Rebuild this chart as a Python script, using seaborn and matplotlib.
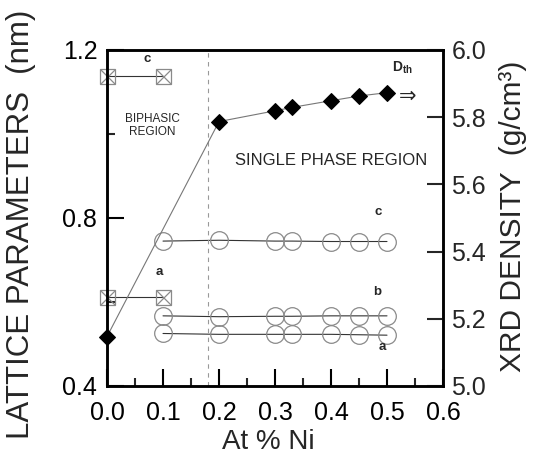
import matplotlib
matplotlib.use('Agg')
import matplotlib.pyplot as plt
import seaborn as sns

# ============================================================================
# DATA
# ============================================================================

# single phase region: lattice parameters a, b, c (nm)
x_ni = [0.1, 0.2, 0.3, 0.33, 0.4, 0.45, 0.5]
lat_a = [0.525, 0.523, 0.523, 0.523, 0.523, 0.522, 0.521]
lat_b = [0.567, 0.565, 0.566, 0.566, 0.567, 0.567, 0.567]
lat_c = [0.745, 0.747, 0.745, 0.745, 0.744, 0.744, 0.744]

# biphasic region: lattice parameters a, c (nm)
x_bi = [0.0, 0.1]
bi_a = [0.613, 0.613]
bi_c = [1.139, 1.139]

# XRD density (g/cm3)
x_dens = [0.0, 0.2, 0.3, 0.33, 0.4, 0.45, 0.5]
dens = [5.147, 5.787, 5.819, 5.829, 5.849, 5.863, 5.873]

phase_boundary = 0.181

# ============================================================================
# STYLE
# ============================================================================

sns.set_style('ticks')
plt.rcParams['font.family'] = ['Liberation Sans', 'DejaVu Sans']
plt.rcParams['mathtext.fontset'] = 'custom'
plt.rcParams['mathtext.rm'] = 'Liberation Sans'
plt.rcParams['mathtext.bf'] = 'Liberation Sans:bold'

fig = plt.figure(figsize=(5.34, 4.54), dpi=100)
ax = fig.add_axes([0.2004, 0.1498, 0.6292, 0.7401])
ax2 = ax.twinx()

circle_kw = dict(marker='o', markersize=12.7, markerfacecolor='none',
                 markeredgecolor='#8a8a8a', markeredgewidth=0.9,
                 color='#333333', linewidth=0.8)
square_kw = dict(marker='s', markersize=10.8, markerfacecolor='none',
                 markeredgecolor='#8a8a8a', markeredgewidth=0.9,
                 color='#333333', linewidth=0.8, clip_on=False)
cross_kw = dict(marker='x', markersize=10.8, markeredgecolor='#8a8a8a',
                markeredgewidth=0.9, linestyle='none', clip_on=False)

# single phase lattice parameters
for vals in [lat_a, lat_b, lat_c]:
    sns.lineplot(x=x_ni, y=vals, ax=ax, **circle_kw)

# biphasic lattice parameters (crossed squares)
for vals in [bi_a, bi_c]:
    sns.lineplot(x=x_bi, y=vals, ax=ax, **square_kw)
    ax.plot(x_bi, vals, **cross_kw)

ax.axvline(phase_boundary, color='#999999', linestyle=(0, (4, 4)), linewidth=0.8)

# density
sns.lineplot(x=x_dens, y=dens, ax=ax2, marker='D', markersize=8.2,
             color='#777777', linewidth=0.8, markerfacecolor='black',
             markeredgecolor='black', clip_on=False)

# ============================================================================
# AXES
# ============================================================================

ax.set_xlim(0.0, 0.6)
ax.set_ylim(0.4, 1.2)
ax2.set_ylim(5.0, 6.0)

ax.set_xticks([0.0, 0.1, 0.2, 0.3, 0.4, 0.5, 0.6])
ax.set_xticks([0.05, 0.15, 0.25, 0.35, 0.45, 0.55], minor=True)
ax.set_xticklabels(['0.0', '0.1', '0.2', '0.3', '0.4', '0.5', '0.6'])
ax.set_yticks([0.4, 0.8, 1.2])
ax.set_yticks([0.6, 1.0], minor=True)
ax.set_yticklabels(['0.4', '0.8', '1.2'])
ax2.set_yticks([5.0, 5.2, 5.4, 5.6, 5.8, 6.0])
ax2.set_yticklabels(['5.0', '5.2', '5.4', '5.6', '5.8', '6.0'])

ax.tick_params(axis='both', which='major', direction='in', length=12,
               width=1.5, labelsize=18, pad=7, colors='black')
ax.tick_params(axis='both', which='minor', direction='in', length=6,
               width=1.5)
ax.tick_params(axis='x', which='major', pad=11)
ax.tick_params(top=False, right=False, which='both')
ax2.tick_params(axis='y', which='major', direction='in', length=11.5,
                width=1.5, labelsize=18, pad=6)

for a in (ax, ax2):
    for sp in a.spines.values():
        sp.set_visible(True)
        sp.set_linewidth(1.8)
        sp.set_color('black')

ax.set_xlabel('At % Ni', fontsize=20)
ax.xaxis.set_label_coords(0.48, -0.128)
ax.set_ylabel('LATTICE PARAMETERS  (nm)', fontsize=22.5)
ax.yaxis.set_label_coords(-0.212, 0.48)
ax2.set_ylabel('XRD DENSITY  (g/cm\u00b3)', fontsize=21.5)
ax2.yaxis.set_label_coords(1.165, 0.505)

# ============================================================================
# ANNOTATIONS
# ============================================================================

bold_kw = dict(fontsize=9.5, fontweight='bold', ha='center', va='center')
ax.text(0.071, 1.178, 'c', **bold_kw)
ax.text(0.093, 0.672, 'a', **bold_kw)
ax.text(0.485, 0.815, 'c', **bold_kw)
ax.text(0.483, 0.6245, 'b', **bold_kw)
ax.text(0.492, 0.492, 'a', **bold_kw)

ax.text(0.0816, 1.021, 'BIPHASIC\nREGION', fontsize=8.5, ha='center',
        va='center', linespacing=1.1)
ax.text(0.401, 0.936, 'SINGLE PHASE REGION', fontsize=12, ha='center',
        va='center')
ax.text(0.527, 1.158, r'$\mathbf{D}_{\mathbf{th}}$', fontsize=10,
        ha='center', va='center')
ax.text(0.537, 1.092, '\u21d2', fontsize=15, ha='center', va='center',
        family=['DejaVu Sans'])

plt.savefig('out.png', dpi=100)
